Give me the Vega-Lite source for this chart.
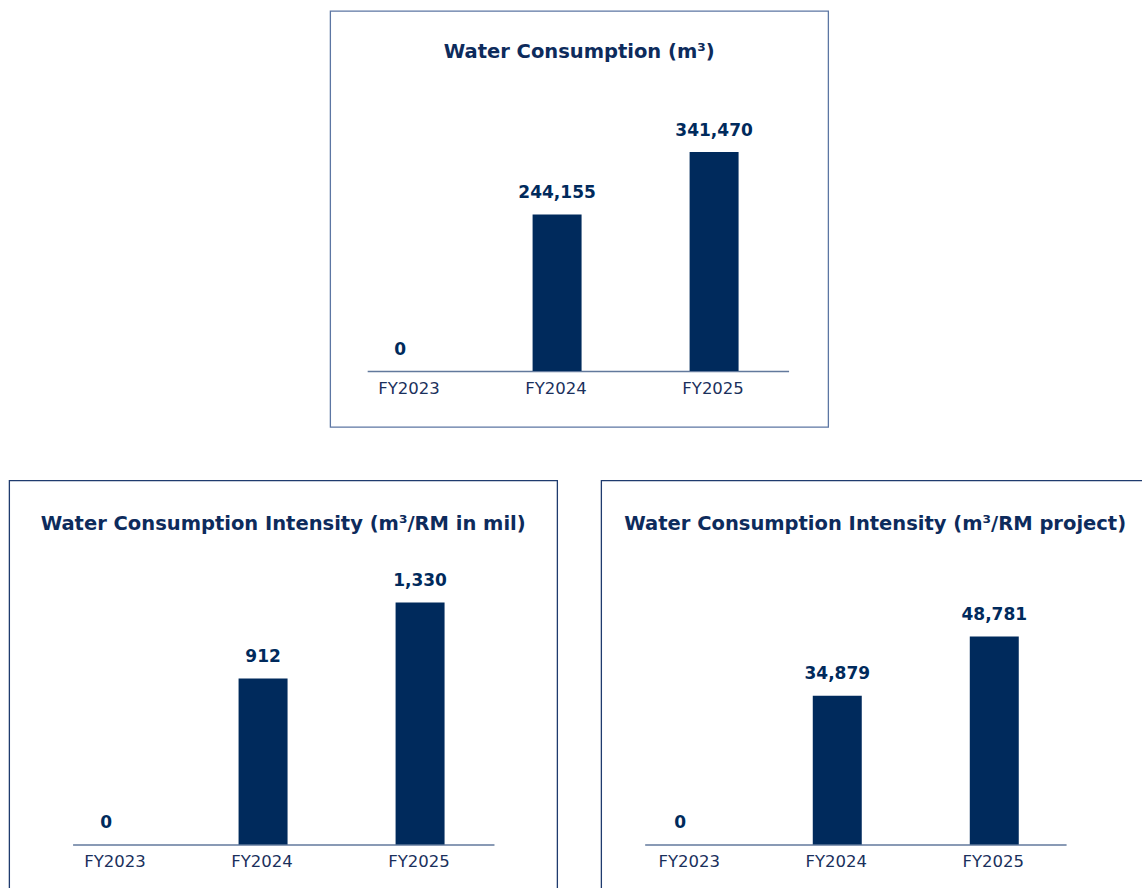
{
  "$schema": "https://vega.github.io/schema/vega-lite/v6.json",
  "background": "white",
  "padding": {"left": 8, "top": 10, "right": 0, "bottom": 0},
  "config": {"font": "DejaVu Sans", "view": {"stroke": null}},
  "datasets": {
    "wc": [
      {"year": "FY2023", "value": 0},
      {"year": "FY2024", "value": 244155},
      {"year": "FY2025", "value": 341470}
    ],
    "wcimil": [
      {"year": "FY2023", "value": 0},
      {"year": "FY2024", "value": 912},
      {"year": "FY2025", "value": 1330}
    ],
    "wciproj": [
      {"year": "FY2023", "value": 0},
      {"year": "FY2024", "value": 34879},
      {"year": "FY2025", "value": 48781}
    ]
  },
  "spacing": 51.5,
  "center": true,
  "vconcat": [
    {
      "data": {"name": "wc"},
      "width": 498,
      "height": 416,
      "view": {"stroke": "#5c76a3", "strokeWidth": 1.3},
      "title": {"text": "Water Consumption (m³)", "offset": -66, "baseline": "alphabetic", "fontSize": 19.5, "fontWeight": "bold", "color": "#0d2b5c", "anchor": "middle", "frame": "group"},
      "encoding": {
        "x": {
          "field": "year", "type": "nominal", "sort": null,
          "scale": {"type": "band", "range": [37, 458.4], "paddingInner": 0.688, "paddingOuter": 0.186, "align": 0.144},
          "axis": {"title": null, "orient": "bottom", "offset": -56, "domainColor": "#62799c", "domainWidth": 1.5, "ticks": false, "grid": false, "labelFontSize": 16.5, "labelColor": "#1a305c", "labelPadding": 22, "labelBaseline": "alphabetic", "labelAngle": 0, "labelOffset": {"condition": {"test": "datum.value === 'FY2023'", "value": 9}, "value": -1}}
        }
      },
      "layer": [
        {"mark": {"type": "bar", "color": "#002a5c"},
         "encoding": {"y": {"field": "value", "type": "quantitative", "scale": {"domain": [0, 341470], "range": [360, 141], "nice": false, "zero": true}, "axis": null}}},
        {"mark": {"type": "text", "dy": -16.5, "baseline": "alphabetic", "fontSize": 17, "fontWeight": "bold", "color": "#002a5c"},
         "encoding": {"y": {"field": "value", "type": "quantitative"}, "text": {"field": "value", "type": "quantitative", "format": ",d"}}}
      ]
    },
    {
      "spacing": 42,
      "hconcat": [
        {
          "data": {"name": "wcimil"},
          "width": 548,
          "height": 410,
          "view": {"stroke": "#1f3b6e", "strokeWidth": 1.3},
          "title": {"text": "Water Consumption Intensity (m³/RM in mil)", "offset": -69, "baseline": "alphabetic", "fontSize": 19.5, "fontWeight": "bold", "color": "#0d2b5c", "anchor": "middle", "frame": "group"},
          "encoding": {
            "x": {
              "field": "year", "type": "nominal", "sort": null,
              "scale": {"type": "band", "range": [63.4, 484.8], "paddingInner": 0.688, "paddingOuter": 0.186, "align": 0.154},
              "axis": {"title": null, "orient": "bottom", "offset": -46, "domainColor": "#62799c", "domainWidth": 1.5, "ticks": false, "grid": false, "labelFontSize": 16.5, "labelColor": "#1a305c", "labelPadding": 22, "labelBaseline": "alphabetic", "labelAngle": 0, "labelOffset": {"condition": {"test": "datum.value === 'FY2023'", "value": 9}, "value": -1}}
            }
          },
          "layer": [
            {"mark": {"type": "bar", "color": "#002a5c"},
             "encoding": {"y": {"field": "value", "type": "quantitative", "scale": {"domain": [0, 1330], "range": [364, 122], "nice": false, "zero": true}, "axis": null}}},
            {"mark": {"type": "text", "dy": -16.5, "baseline": "alphabetic", "fontSize": 17, "fontWeight": "bold", "color": "#002a5c"},
             "encoding": {"y": {"field": "value", "type": "quantitative"}, "text": {"field": "value", "type": "quantitative", "format": ",d"}}}
          ]
        },
        {
          "data": {"name": "wciproj"},
          "width": 548,
          "height": 410,
          "view": {"stroke": "#1f3b6e", "strokeWidth": 1.3},
          "title": {"text": "Water Consumption Intensity (m³/RM project)", "offset": -69, "baseline": "alphabetic", "fontSize": 19.5, "fontWeight": "bold", "color": "#0d2b5c", "anchor": "middle", "frame": "group"},
          "encoding": {
            "x": {
              "field": "year", "type": "nominal", "sort": null,
              "scale": {"type": "band", "range": [43.5, 464.9], "paddingInner": 0.688, "paddingOuter": 0.186, "align": 0.19},
              "axis": {"title": null, "orient": "bottom", "offset": -46, "domainColor": "#62799c", "domainWidth": 1.5, "ticks": false, "grid": false, "labelFontSize": 16.5, "labelColor": "#1a305c", "labelPadding": 22, "labelBaseline": "alphabetic", "labelAngle": 0, "labelOffset": {"condition": {"test": "datum.value === 'FY2023'", "value": 9}, "value": -1}}
            }
          },
          "layer": [
            {"mark": {"type": "bar", "color": "#002a5c"},
             "encoding": {"y": {"field": "value", "type": "quantitative", "scale": {"domain": [0, 48781], "range": [364, 156], "nice": false, "zero": true}, "axis": null}}},
            {"mark": {"type": "text", "dy": -16.5, "baseline": "alphabetic", "fontSize": 17, "fontWeight": "bold", "color": "#002a5c"},
             "encoding": {"y": {"field": "value", "type": "quantitative"}, "text": {"field": "value", "type": "quantitative", "format": ",d"}}}
          ]
        }
      ]
    }
  ]
}
